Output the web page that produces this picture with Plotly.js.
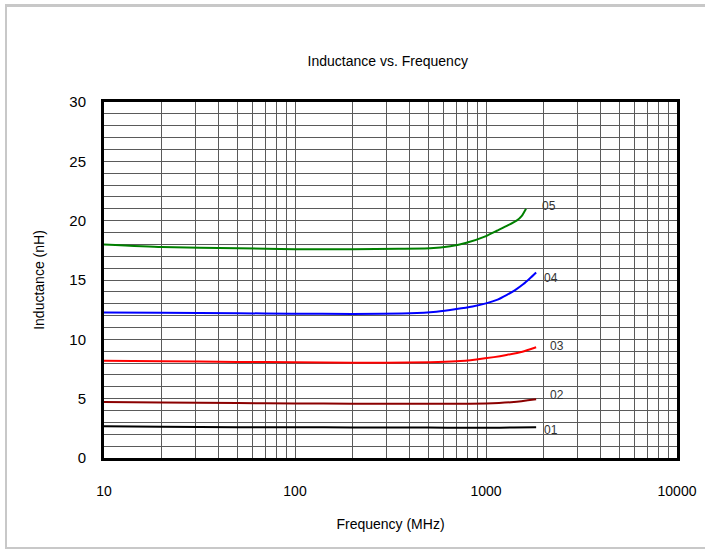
<!DOCTYPE html>
<html>
<head>
<meta charset="utf-8">
<script src="https://cdn.plot.ly/plotly-3.0.1.min.js"></script>
<style>
  html, body { margin: 0; padding: 0; background: #fff; }
  #chart { width: 705px; height: 552px; }
  #frame { position: absolute; left: 5px; top: 4px; width: 700px; height: 545px;
           border-top: 3px solid #c8c8c8; border-left: 2px solid #c8c8c8; border-bottom: 2px solid #c8c8c8;
           box-sizing: border-box; pointer-events: none; }
</style>
</head>
<body>
<div id="chart"></div>
<div id="frame"></div>
<script>
// Frequency (MHz) and inductance (nH) for each part
const freq01 = [10, 20, 50, 100, 200, 500, 800, 1000, 1400, 1830];
const ind01  = [2.68, 2.64, 2.6, 2.6, 2.58, 2.56, 2.54, 2.54, 2.57, 2.6];

const freq02 = [10, 20, 50, 100, 200, 300, 500, 1000, 1400, 1830];
const ind02  = [4.72, 4.68, 4.63, 4.6, 4.58, 4.58, 4.58, 4.6, 4.72, 4.95];

const freq03 = [10, 20, 50, 100, 200, 300, 510, 700, 890, 1100, 1280, 1550, 1830];
const ind03  = [8.2, 8.15, 8.1, 8.06, 8.03, 8.03, 8.06, 8.15, 8.31, 8.5, 8.68, 8.95, 9.33];

const freq04 = [10, 20, 50, 96, 200, 400, 550, 700, 850, 1000, 1150, 1280, 1420, 1570, 1700, 1830];
const ind04  = [12.27, 12.24, 12.2, 12.16, 12.14, 12.19, 12.33, 12.55, 12.77, 13.03, 13.35, 13.73, 14.15, 14.66, 15.15, 15.64];

const freq05 = [10, 20, 50, 100, 200, 350, 510, 650, 790, 1000, 1140, 1300, 1446, 1540, 1620];
const ind05  = [18.0, 17.78, 17.68, 17.6, 17.6, 17.63, 17.67, 17.85, 18.14, 18.7, 19.15, 19.6, 20.0, 20.4, 21.0];

const seriesNames  = ['01', '02', '03', '04', '05'];
const seriesColors = ['#000000', '#8b0000', '#ff0000', '#0000ff', '#008000'];

const xTickVals = [10,20,30,40,50,60,70,80,90,100,200,300,400,500,600,700,800,900,1000,2000,3000,4000,5000,6000,7000,8000,9000,10000];
const xTickText = xTickVals.map(v => [10,100,1000,10000].includes(v) ? String(v) : '');
const yTickVals = Array.from({length: 31}, (_, i) => i);
const yTickText = yTickVals.map(v => v % 5 === 0 ? String(v) : '');

const xs = [freq01, freq02, freq03, freq04, freq05];
const ys = [ind01, ind02, ind03, ind04, ind05];

const traces = xs.map((x, i) => ({
  x: x, y: ys[i], type: 'scatter', mode: 'lines', name: seriesNames[i],
  line: { color: seriesColors[i], width: 2, shape: 'spline', smoothing: 0.5 },
  hoverinfo: 'skip'
}));

const labelShift = [[6, -3], [12, 4], [12, 1], [6, -6], [14, 3]];
const annotations = xs.map((x, i) => ({
  x: Math.log10(x[x.length - 1]), y: ys[i][ys[i].length - 1],
  xref: 'x', yref: 'y', text: seriesNames[i], showarrow: false,
  xanchor: 'left', yanchor: 'middle',
  xshift: labelShift[i][0], yshift: labelShift[i][1],
  font: { family: 'Liberation Sans, Arial, sans-serif', size: 12, color: '#333' }
}));

const font = { family: 'Liberation Sans, Arial, sans-serif', color: '#000' };

const layout = {
  width: 705, height: 552,
  margin: { l: 104, r: 28, t: 102, b: 94 },
  paper_bgcolor: '#fff', plot_bgcolor: '#fff',
  showlegend: false,
  font: font,
  title: { text: 'Inductance vs. Frequency', x: 0.55, xanchor: 'center', y: 0.89, yanchor: 'middle',
           font: { family: font.family, size: 14, color: '#000' } },
  xaxis: {
    type: 'log', range: [1, 4],
    tickvals: xTickVals, ticktext: xTickText,
    ticks: 'outside', ticklen: 18, tickcolor: 'rgba(0,0,0,0)',
    tickfont: { family: font.family, size: 14, color: '#000' },
    showgrid: true, gridcolor: '#5a5a5a', gridwidth: 1,
    showline: true, linecolor: '#000', linewidth: 3, mirror: true,
    zeroline: false,
    title: { text: 'Frequency (MHz)', standoff: 22, font: { family: font.family, size: 14, color: '#000' } }
  },
  yaxis: {
    range: [0, 30],
    tickvals: yTickVals, ticktext: yTickText,
    ticks: 'outside', ticklen: 12, tickcolor: 'rgba(0,0,0,0)',
    tickfont: { family: font.family, size: 15, color: '#000' },
    showgrid: true, gridcolor: '#5a5a5a', gridwidth: 1,
    showline: true, linecolor: '#000', linewidth: 3, mirror: true,
    zeroline: false,
    title: { text: 'Inductance (nH)', standoff: 22, font: { family: font.family, size: 14, color: '#000' } }
  },
  annotations: annotations
};

Plotly.newPlot('chart', traces, layout, { displayModeBar: false, staticPlot: true });
</script>
</body>
</html>
